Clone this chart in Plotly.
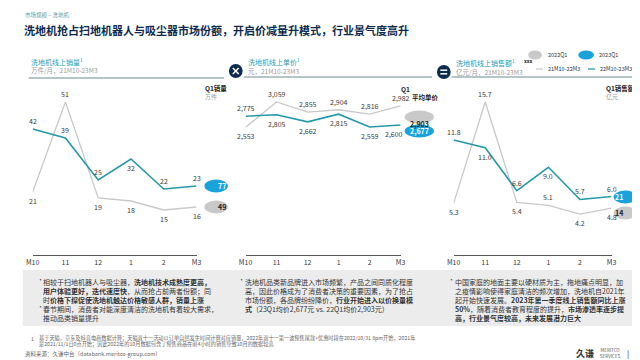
import plotly.graph_objects as go

# ---------------- data ----------------
months = ["M10", "11", "12", "1", "2", "M3"]
sales_prev = [21, 51, 19, 18, 15, 16]          # 万件, 21M10-22M3
sales_curr = [42, 39, 25, 32, 22, 23]          # 万件, 22M10-23M3
price_prev = [2553, 3059, 2855, 2904, 2816, 2982]  # 元
price_curr = [2775, 2805, 2662, 2815, 2559, 2600]
gmv_prev = [5.3, 15.7, 5.4, 5.1, 4.2, 4.8]     # 亿元
gmv_curr = [11.8, 11.0, 6.6, 9.0, 5.7, 6.0]
q1_prev = [49, 2903, 14]   # 2022Q1: 销量, 均价, 销售额
q1_curr = [77, 2677, 21]   # 2023Q1
series_names = ["21M10-22M3", "22M10-23M3"]
q1_names = ["2022Q1", "2023Q1"]

# ---------------- style ----------------
W, H = 640, 360
FONT = "Noto Sans CJK SC"
TEAL = "#2599aa"
GREY = "#c9c9c9"
BLUE = "#1aa3db"
NAVY = "#0d2b4e"
TXT = "#3a3a3a"

def px(x):
    return x / W

def py(y):
    return 1 - y / H

fig = go.Figure()
annotations = []
shapes = []
idx = list(range(len(months)))

panels = [
    dict(prev=sales_prev, curr=sales_curr, x0=18, x1=185, fmt=lambda v: f"{v:d}",
         pos_prev=["b", "a", "b", "b", "b", "b"], pos_curr=["a", "a", "a", "b", "a", "a"]),
    dict(prev=price_prev, curr=price_curr, x0=235, x1=393, fmt=lambda v: f"{v:,}",
         pos_prev=["b", "a", "a", "a", "a", "a"], pos_curr=["a", "b", "b", "b", "b", "bl"]),
    dict(prev=gmv_prev, curr=gmv_curr, x0=447, x1=608, fmt=lambda v: f"{v:.1f}",
         pos_prev=["b", "a", "b", "a", "b", "b"], pos_curr=["a", "b", "a", "b", "a", "a"]),
]

Y_ZERO, Y_MAXPX, Y_TOP = 247, 94, 88
for i, p in enumerate(panels):
    k = "" if i == 0 else str(i + 1)
    xa, ya = "x" + k, "y" + k
    vmax = max(p["prev"] + p["curr"])
    ytop = vmax * (Y_ZERO - Y_TOP) / (Y_ZERO - Y_MAXPX)
    fig.add_trace(go.Scatter(x=idx, y=p["prev"], mode="lines", xaxis=xa, yaxis=ya,
                             line=dict(color=GREY, width=1.3), name=series_names[0],
                             showlegend=False, hoverinfo="skip"))
    fig.add_trace(go.Scatter(x=idx, y=p["curr"], mode="lines", xaxis=xa, yaxis=ya,
                             line=dict(color=TEAL, width=1.6), name=series_names[1],
                             showlegend=False, hoverinfo="skip"))
    fig.layout["xaxis" + k] = dict(domain=[px(p["x0"]), px(p["x1"])], type="linear",
                                  range=[0, len(months) - 1], showgrid=False, zeroline=False,
                                  tickmode="array", tickvals=idx, ticktext=months,
                                  showline=True, linecolor="#555", linewidth=1.2,
                                  ticks="", tickfont=dict(family=FONT, size=7, color=TXT),
                                  anchor=ya, fixedrange=True)
    fig.layout["yaxis" + k] = dict(domain=[py(Y_ZERO), py(Y_TOP)], range=[0, ytop],
                                  visible=False, anchor=xa, fixedrange=True)
    for vals, poss in ((p["prev"], p["pos_prev"]), (p["curr"], p["pos_curr"])):
        for j, v, pos in zip(idx, vals, poss):
            ys = 8 if pos == "a" else -9
            xs = -7 if pos == "bl" else 0
            annotations.append(dict(x=j, y=v, xref=xa, yref=ya, text=p["fmt"](v),
                                    showarrow=False, yshift=ys, xshift=xs,
                                    font=dict(family=FONT, size=7, color=TXT)))

# ---------------- badges (Q1 totals) ----------------
badges = [
    (205, 178, 199, 24, f"{q1_curr[0]:d}", f"{q1_prev[0]:d}"),
    (412, 123, 109, 30, f"{q1_curr[1]:,}", f"{q1_prev[1]:,}"),
    (622, 189, 205, 24, f"{q1_curr[2]:d}", f"{q1_prev[2]:d}"),
]
for cx, yc, yp, w, tc, tp in badges:
    for yy, col, t, tcol in ((yc, BLUE, tc, "white"), (yp, GREY, tp, "#222")):
        shapes.append(dict(type="circle", xref="paper", yref="paper",
                           x0=px(cx - w / 2), x1=px(cx + w / 2), y0=py(yy + 6.5), y1=py(yy - 6.5),
                           fillcolor=col, line=dict(width=0), layer="below"))
        annotations.append(dict(x=px(cx), y=py(yy), xref="paper", yref="paper", text=f"<b>{t}</b>",
                                showarrow=False, font=dict(family=FONT, size=7, color=tcol)))

def txt(x, y, t, size=7, color=TXT, xanchor="left", bold=False):
    annotations.append(dict(x=px(x), y=py(y), xref="paper", yref="paper",
                            text=f"<b>{t}</b>" if bold else t, showarrow=False,
                            xanchor=xanchor, yanchor="middle",
                            font=dict(family=FONT, size=size, color=color)))

# Q1 headers
txt(192, 80, "Q1销量", 6.5, "#222", bold=True)
txt(192, 88, "万件", 6, "#999")
txt(391, 81, "Q1", 6.5, "#222", bold=True)
txt(403, 89, "平均单价", 6.5, "#222", bold=True)
txt(600, 80, "Q1销售额", 6.5, "#222", bold=True)
txt(600, 88, "亿元", 6, "#999")

# ---------------- titles ----------------
txt(8, 7, "市场规模 – 洗地机", 5.5, "#5a9fb0")
txt(7, 22, "<b>洗地机抢占扫地机器人与吸尘器市场份额，开启价减量升模式，行业景气度高升</b>", 11, NAVY)

def seg(x0, y0, x1, y1, color, width):
    shapes.append(dict(type="line", xref="paper", yref="paper", x0=px(x0), x1=px(x1),
                       y0=py(y0), y1=py(y1), line=dict(color=color, width=width), layer="below"))

heads = [
    (14, 53, 62, 14, 213, 70, "洗地机线上销量<sup>1</sup>", "万件/月，21M10-23M3", None),
    (235, 53, 63, 233, 425, 69, "洗地机线上单价<sup>1</sup>", "元，21M10-23M3", "times"),
    (447, 54, 64, 445, 632, 69, "洗地机线上销售额<sup>1</sup>", "亿元/月，21M10-23M3", "equal"),
]
for x, yt, ys, lx0, lx1, ly, t, s, icon in heads:
    txt(x, yt, t, 7, "#1ba0b5")
    txt(x, ys, s, 6.5, "#9a9a9a")
    seg(lx0, ly, lx1, ly, "#6d8a90", 1)
    if icon:
        cx, cy = x - 10, ys
        shapes.append(dict(type="circle", xref="paper", yref="paper", x0=px(cx - 7), x1=px(cx + 7),
                           y0=py(cy + 7), y1=py(cy - 7), fillcolor=NAVY, line=dict(width=0),
                           layer="below"))
        if icon == "times":
            seg(cx - 3, cy - 3, cx + 3, cy + 3, "white", 1.6)
            seg(cx - 3, cy + 3, cx + 3, cy - 3, "white", 1.6)
        else:
            seg(cx - 3.5, cy - 1.8, cx + 3.5, cy - 1.8, "white", 1.5)
            seg(cx - 3.5, cy + 1.8, cx + 3.5, cy + 1.8, "white", 1.5)

# ---------------- legend ----------------
for cx, w, col, tcol, lab in ((530, 14, GREY, "#222", q1_names[0]), (582, 16, BLUE, "white", q1_names[1])):
    shapes.append(dict(type="circle", xref="paper", yref="paper", x0=px(cx - w / 2), x1=px(cx + w / 2),
                       y0=py(51.5), y1=py(42.5), fillcolor=col, line=dict(width=0), layer="below"))
    annotations.append(dict(x=px(cx), y=py(47), xref="paper", yref="paper", text="<b>xxx</b>",
                            showarrow=False, font=dict(family=FONT, size=5, color=tcol)))
    txt(cx + 11, 47, lab, 5.5, "#333")
for lx, col, lab in ((531, GREY, series_names[0]), (584, TEAL, series_names[1])):
    seg(lx, 61, lx + 7, 61, col, 1.3)
    txt(lx + 10, 61, lab, 5.5, "#333")

# ---------------- bottom commentary ----------------
shapes.append(dict(type="rect", xref="paper", yref="paper", x0=px(8), x1=px(632), y0=py(318), y1=py(262),
                   fillcolor="#ececec", line=dict(width=0), layer="below"))

def bullet(x, y, lines):
    txt(x - 7, y, "•", 7, "#555")
    annotations.append(dict(x=px(x), y=py(y - 4.5), xref="paper", yref="paper", text="<br>".join(lines),
                            showarrow=False, xanchor="left", yanchor="top", align="left",
                            font=dict(family=FONT, size=7, color="#333")))

bullet(27, 271, ["相较于扫地机器人与吸尘器，<b>洗地机技术成熟度更高，</b>",
                 "<b>用户体验更好，迭代速度快</b>，从而抢占前两者份额；同",
                 "时<b>价格下探促使洗地机触达价格敏感人群，销量上涨</b>"])
bullet(27, 298, ["春节期间，消费者对能深度清洁的洗地机有着较大需求，",
                 "推动品类销量提升"])
bullet(232, 271, ["洗地机品类新品牌进入市场频繁，产品之间同质化程度",
                  "高，因此价格成为了消费者决策的重要因素，为了抢占",
                  "市场份额，各品牌纷纷降价，<b>行业开始进入以价换量模</b>",
                  "<b>式</b>（23Q1均价2,677元 vs. 22Q1均价2,903元）"])
bullet(446, 271, ["中国家庭的地面主要以硬材质为主，拖地痛点明显，加",
                  "之疫情影响使得家庭清洁的频次增加，洗地机自2021年",
                  "起开始快速发展。<b>2023年第一季度线上销售额同比上涨</b>",
                  "<b>50%</b>，随着消费者教育程度的提升，<b>市场渗透率逐步提</b>",
                  "<b>高，行业景气度较高，未来发展潜力巨大</b>"])

# ---------------- footnote & source ----------------
txt(14, 330, "1", 5.2, "#666")
txt(22, 330, "基于天猫，京东及抖音电商数据计算；天猫双十一活动以订单自然发生时间计算对应销量，2022年双十一第一波预售尾款+优惠时段在2022/10/31 8pm开始，2021年", 5.2, "#666")
txt(22, 336, "是2021/11/1日0点开始；因此2022年的10月数据包含了预售商品在前4小时的销售导致10月的数据较高", 5.2, "#666")
txt(8, 346, "资料来源：久谦中台（databank.meritco-group.com）", 5.5, "#666")
txt(592, 345, "<b>久谦</b>", 9, "#333", xanchor="right")
txt(594, 345, "MERITCO<br>SERVICES", 4.5, "#555")
txt(622, 345, "|", 8, "#333")
txt(630, 345, "9", 7, "#333")

fig.update_layout(width=W, height=H, margin=dict(l=0, r=0, t=0, b=0),
                  paper_bgcolor="white", plot_bgcolor="rgba(0,0,0,0)",
                  font=dict(family=FONT), showlegend=False,
                  annotations=annotations, shapes=shapes)
fig.write_html("out.html")
